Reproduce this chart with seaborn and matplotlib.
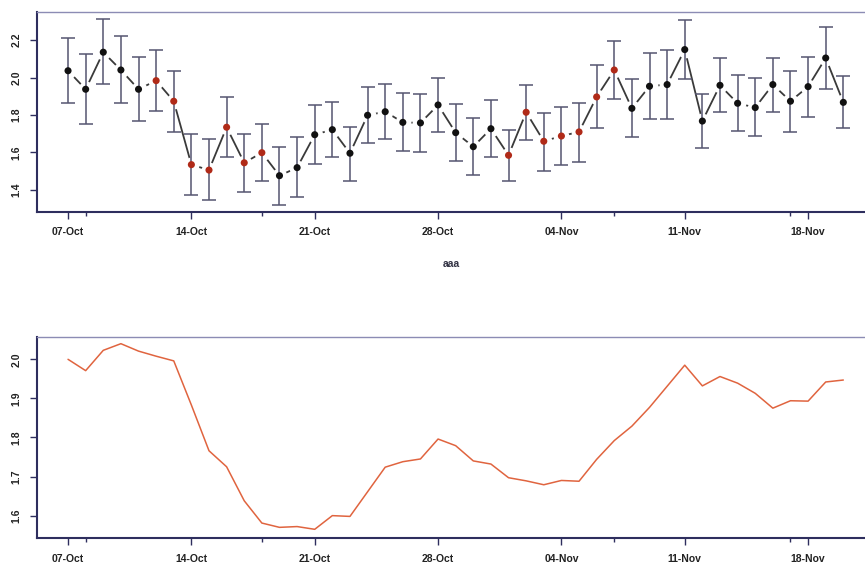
import numpy as np
import pandas as pd
import matplotlib
matplotlib.use("Agg")
import matplotlib.pyplot as plt
import matplotlib.dates as mdates
import seaborn as sns

# Daily series, 07-Oct to 20-Nov
start_day = "2013-10-07"
n_days = 45

mean_vals = [2.037, 1.938, 2.136, 2.041, 1.938, 1.984, 1.874, 1.535, 1.506, 1.735,
             1.545, 1.599, 1.476, 1.519, 1.695, 1.722, 1.596, 1.799, 1.818, 1.761,
             1.758, 1.854, 1.706, 1.631, 1.727, 1.585, 1.815, 1.660, 1.688, 1.710,
             1.897, 2.041, 1.836, 1.954, 1.963, 2.150, 1.768, 1.959, 1.863, 1.840,
             1.963, 1.874, 1.952, 2.105, 1.868]
upper_vals = [2.210, 2.127, 2.314, 2.223, 2.112, 2.148, 2.037, 1.697, 1.670, 1.898,
              1.699, 1.752, 1.631, 1.684, 1.852, 1.868, 1.738, 1.952, 1.968, 1.917,
              1.914, 1.998, 1.858, 1.783, 1.881, 1.720, 1.961, 1.813, 1.845, 1.865,
              2.066, 2.195, 1.991, 2.130, 2.148, 2.310, 1.914, 2.105, 2.013, 1.998,
              2.107, 2.034, 2.112, 2.273, 2.011]
lower_vals = [1.866, 1.754, 1.965, 1.863, 1.767, 1.824, 1.708, 1.371, 1.344, 1.574,
              1.389, 1.446, 1.321, 1.360, 1.538, 1.574, 1.449, 1.649, 1.672, 1.610,
              1.601, 1.711, 1.553, 1.481, 1.574, 1.446, 1.665, 1.503, 1.535, 1.551,
              1.731, 1.888, 1.681, 1.781, 1.781, 1.991, 1.624, 1.815, 1.717, 1.688,
              1.817, 1.710, 1.791, 1.940, 1.729]
# point class: "hi" days are drawn in red
point_class = (["lo"] * 5 + ["hi"] * 7 + ["lo"] * 13 + ["hi"] * 7 + ["lo"] * 13)

smooth_vals = [2.000, 1.971, 2.023, 2.040, 2.021, 2.008, 1.996, 1.883, 1.766, 1.725,
               1.638, 1.581, 1.570, 1.572, 1.565, 1.600, 1.598, 1.661, 1.724, 1.738,
               1.745, 1.796, 1.779, 1.740, 1.732, 1.697, 1.689, 1.679, 1.690, 1.688,
               1.744, 1.792, 1.829, 1.877, 1.931, 1.985, 1.932, 1.956, 1.939, 1.913,
               1.875, 1.894, 1.893, 1.942, 1.947]

top_yticks = [1.4, 1.6, 1.8, 2.0, 2.2]
bottom_yticks = [1.6, 1.7, 1.8, 1.9, 2.0]
x_label = "aaa"

dates = pd.date_range(start_day, periods=n_days, freq="D")
df = pd.DataFrame({"date": dates, "mean": mean_vals, "upper": upper_vals,
                   "lower": lower_vals, "cls": point_class, "smooth": smooth_vals})

sns.set_style("ticks")
plt.rcParams["font.family"] = ["Liberation Sans", "DejaVu Sans"]
plt.rcParams["font.weight"] = "bold"

fig = plt.figure(figsize=(8.65, 5.68), dpi=100)
ax1 = fig.add_axes([0.0428, 0.6268, 0.9572, 0.3521])
ax2 = fig.add_axes([0.0428, 0.0523, 0.9572, 0.3550])

dark = "#2e2e5e"
light = "#8c8cb4"
err_col = "#555570"

# top: mean with interval bars, line broken around points
sns.lineplot(data=df, x="date", y="mean", ax=ax1, color="#3a3a3a", lw=1.3, zorder=1)
sns.scatterplot(data=df, x="date", y="mean", ax=ax1, color="white", s=130,
                linewidth=0, zorder=2, legend=False)
ax1.errorbar(df["date"], df["mean"],
             yerr=[df["mean"] - df["lower"], df["upper"] - df["mean"]],
             fmt="none", ecolor=err_col, elinewidth=1.1, capsize=5.0, capthick=1.1,
             zorder=3)
sns.scatterplot(data=df, x="date", y="mean", hue="cls", ax=ax1,
                palette={"lo": "#111111", "hi": "#b02a18"}, s=26, linewidth=0,
                zorder=4, legend=False)

# bottom: smoothed series
sns.lineplot(data=df, x="date", y="smooth", ax=ax2, color="#e0643f", lw=1.1)

x0 = dates[0] - pd.Timedelta(days=1.76)
x1 = dates[0] + pd.Timedelta(days=45.23)
for ax, lim, yt in ((ax1, (1.282, 2.351), top_yticks), (ax2, (1.542, 2.058), bottom_yticks)):
    ax.set_xlim(x0, x1)
    ax.set_ylim(*lim)
    ax.set_xticks(dates[::7])
    ax.set_xticks(dates[[1, 11, 31, 41]], minor=True)
    ax.xaxis.set_major_formatter(mdates.DateFormatter("%d-%b"))
    ax.set_yticks(yt)
    ax.set_yticklabels([f"{v:.1f}" for v in yt], rotation=90, va="center")
    ax.tick_params(axis="both", which="major", length=5, width=1.0, color=dark,
                   labelsize=7.5, pad=6)
    ax.tick_params(axis="x", which="minor", length=3, width=1.0, color=dark)
    for lab in ax.get_xticklabels() + ax.get_yticklabels():
        lab.set_fontweight("bold")
        lab.set_color("#222222")
    ax.spines["left"].set_color(dark)
    ax.spines["left"].set_linewidth(1.5)
    ax.spines["bottom"].set_color(dark)
    ax.spines["bottom"].set_linewidth(1.5)
    ax.spines["top"].set_visible(True)
    ax.spines["top"].set_color(light)
    ax.spines["top"].set_linewidth(1.0)
    ax.spines["right"].set_visible(False)
    ax.set_ylabel("")

ax1.set_xlabel(x_label, fontsize=7.5, fontweight="bold", color="#333344", labelpad=16)
ax2.set_xlabel("")

fig.savefig("out.png", dpi=100, facecolor="white")
